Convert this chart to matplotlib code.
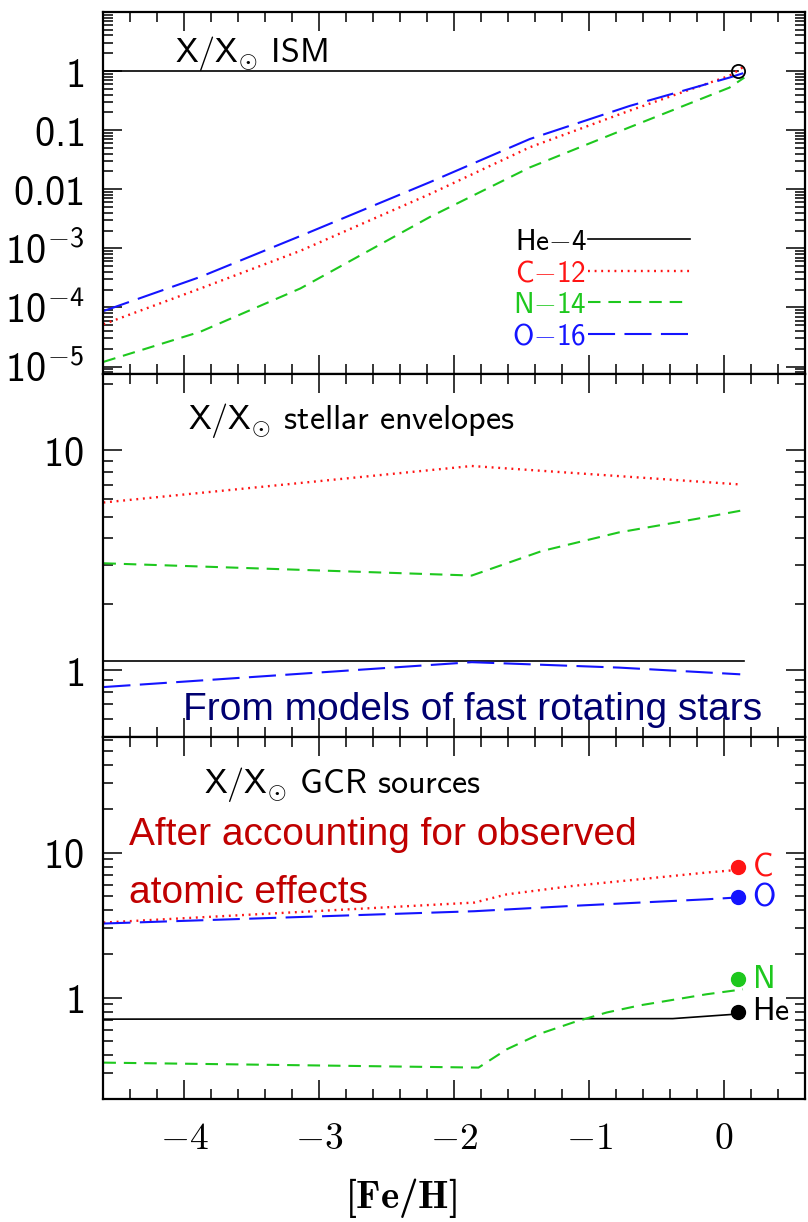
import numpy as np
import matplotlib
matplotlib.use('Agg')
import matplotlib.pyplot as plt
from matplotlib import font_manager
from matplotlib.ticker import LogLocator, NullFormatter, MultipleLocator

# Computer Modern sans for labels, roman for x ticks, bold for the axis title
plt.rcParams['mathtext.fontset'] = 'custom'
plt.rcParams['mathtext.rm'] = 'cmr10'
plt.rcParams['mathtext.sf'] = 'cmss10'
plt.rcParams['mathtext.bf'] = 'cmb10'
plt.rcParams['mathtext.fallback'] = 'cm'

# abundances relative to solar vs [Fe/H]

# ISM
feh_ism = [-4.6, -3.88, -3.14, -2.18, -1.44, -0.70, 0.04, 0.15]
c_ism = [5.2e-5, 2.1e-4, 9.1e-4, 8.3e-3, 0.0513, 0.214, 0.832, 1.2]
n_ism = [1.2e-5, 3.9e-5, 2.1e-4, 3.4e-3, 0.0234, 0.112, 0.525, 0.776]
o_ism = [8.7e-5, 3.3e-4, 1.62e-3, 0.0132, 0.0708, 0.257, 0.776, 0.933]
feh_he_ism = [-4.6, 0.1]
he_ism = [1.0, 1.0]
sun_feh, sun_val = 0.1, 1.0

# stellar envelopes (fast rotators)
feh_env_he = [-4.6, 0.15]
he_env = [1.1, 1.1]
feh_env_c = [-4.6, -1.87, 0.13]
c_env = [5.8, 8.5, 7.0]
feh_env_n = [-4.6, -1.87, -1.35, -0.78, -0.21, 0.12]
n_env = [3.07, 2.70, 3.49, 4.24, 4.88, 5.32]
feh_env_o = [-4.6, -1.87, -0.78, 0.12]
o_env = [0.84, 1.09, 1.03, 0.96]

# GCR sources
feh_gcr_he = [-4.6, -0.38, 0.1]
he_gcr = [0.71, 0.716, 0.77]
feh_gcr_c = [-4.6, -1.85, -1.61, -1.12, -0.62, -0.13, 0.1]
c_gcr = [3.29, 4.52, 5.15, 5.89, 6.55, 7.28, 7.59]
feh_gcr_n = [-4.6, -1.82, -1.61, -1.36, -1.12, -0.87, -0.62, -0.38, -0.13, 0.14]
n_gcr = [0.356, 0.329, 0.44, 0.565, 0.673, 0.789, 0.885, 0.964, 1.054, 1.14]
feh_gcr_o = [-4.6, -1.85, -1.12, -0.13, 0.1]
o_gcr = [3.24, 3.94, 4.29, 4.76, 4.9]

# observed GCR source composition
obs_feh = 0.1
obs_names = ['C', 'O', 'N', 'He']
obs_vals = [7.9, 4.97, 1.34, 0.796]

legend_labels = [r'$\mathsf{He{-}4}$', r'$\mathsf{C{-}12}$', r'$\mathsf{N{-}14}$', r'$\mathsf{O{-}16}$']
xtick_vals = [-4, -3, -2, -1, 0]

sty = {
    'He': dict(color='k', ls='-', lw=1.2),
    'C': dict(color='#ff1414', ls=(0, (0.8, 2.0)), lw=1.7),
    'N': dict(color='#1ec81e', ls=(0, (6, 3.8)), lw=1.5),
    'O': dict(color='#1414ff', ls=(0, (13, 4.5)), lw=1.5),
}
obs_colors = {'C': '#ff1414', 'O': '#1414ff', 'N': '#1ec81e', 'He': 'k'}

# narrow sans for the annotations, if we have it
names = {f.name for f in font_manager.fontManager.ttflist}
if 'Liberation Sans Narrow' in names:
    note_font, note_size = 'Liberation Sans Narrow', 33
else:
    note_font, note_size = 'Liberation Sans', 28

fig, axes = plt.subplots(3, 1, figsize=(8.08, 12.22), dpi=100, sharex=True,
                         gridspec_kw=dict(hspace=0))
fig.subplots_adjust(left=0.128, right=0.9963, top=0.9902, bottom=0.1007)
ax1, ax2, ax3 = axes
for ax in axes:
    ax.set_yscale('log')

# top: ISM
ax1.plot(feh_he_ism, he_ism, label=legend_labels[0], **sty['He'])
ax1.plot(feh_ism, c_ism, label=legend_labels[1], **sty['C'])
ax1.plot(feh_ism, n_ism, label=legend_labels[2], **sty['N'])
ax1.plot(feh_ism, o_ism, label=legend_labels[3], **sty['O'])
ax1.plot([sun_feh], [sun_val], 'o', mfc='none', mec='k', ms=9.5, mew=1.3)
ax1.set_ylim(7.4e-6, 10)
ax1.set_yticks([1e-5, 1e-4, 1e-3, 1e-2, 1e-1, 1, 10],
               labels=[r'$\mathsf{10^{-5}}$', r'$\mathsf{10^{-4}}$', r'$\mathsf{10^{-3}}$',
                       r'$\mathsf{0.01}$', r'$\mathsf{0.1}$', r'$\mathsf{1}$', ''])
ax1.legend(loc='upper right', bbox_to_anchor=(0.836, 0.405), frameon=False,
           markerfirst=False, labelcolor='linecolor', fontsize=21,
           handlelength=3.5, handletextpad=0.05, labelspacing=0.12,
           borderpad=0, borderaxespad=0)
ax1.text(0.102, 0.863, r'$\mathsf{X/X_{\odot}\ ISM}$', transform=ax1.transAxes,
         fontsize=24.5, va='baseline')

# middle: stellar envelopes
ax2.plot(feh_env_he, he_env, **sty['He'])
ax2.plot(feh_env_c, c_env, **sty['C'])
ax2.plot(feh_env_n, n_env, **sty['N'])
ax2.plot(feh_env_o, o_env, **sty['O'])
ax2.set_ylim(0.5, 22.2)
ax2.set_yticks([1, 10], labels=[r'$\mathsf{1}$', r'$\mathsf{10}$'])
ax2.text(0.120, 0.850, r'$\mathsf{X/X_{\odot}\ stellar\ envelopes}$',
         transform=ax2.transAxes, fontsize=24.5, va='baseline')
ax2.text(0.113, 0.046, 'From models of fast rotating stars', transform=ax2.transAxes,
         family=note_font, fontsize=note_size, color='#000070', va='baseline')

# bottom: GCR sources
ax3.plot(feh_gcr_he, he_gcr, **sty['He'])
ax3.plot(feh_gcr_c, c_gcr, **sty['C'])
ax3.plot(feh_gcr_n, n_gcr, **sty['N'])
ax3.plot(feh_gcr_o, o_gcr, **sty['O'])
for name, val in zip(obs_names, obs_vals):
    ax3.plot([obs_feh], [val], 'o', color=obs_colors[name], ms=10, zorder=5)
    ax3.text(obs_feh + 0.11, val, r'$\mathsf{%s}$' % name, color=obs_colors[name],
             fontsize=23, va='center')
ax3.set_ylim(0.2, 63)
ax3.set_yticks([1, 10], labels=[r'$\mathsf{1}$', r'$\mathsf{10}$'])
ax3.text(0.143, 0.845, r'$\mathsf{X/X_{\odot}\ GCR\ sources}$',
         transform=ax3.transAxes, fontsize=24.5, va='baseline')
ax3.text(0.036, 0.7017, 'After accounting for observed', transform=ax3.transAxes,
         family=note_font, fontsize=note_size, color='#c00000', va='baseline')
ax3.text(0.036, 0.541, 'atomic effects', transform=ax3.transAxes,
         family=note_font, fontsize=note_size, color='#c00000', va='baseline')

ax3.set_xlim(-4.6, 0.6)
ax3.set_xticks(xtick_vals, labels=[r'$%d$' % v for v in xtick_vals])
ax3.xaxis.set_minor_locator(MultipleLocator(0.2))
ax3.set_xlabel(r'$\mathbf{[Fe/H]}$', fontsize=28)
ax3.xaxis.set_label_coords(0.424, -0.212)

for ax in axes:
    ax.yaxis.set_minor_locator(LogLocator(subs=np.arange(2, 10), numticks=50))
    ax.yaxis.set_minor_formatter(NullFormatter())
    ax.tick_params(which='both', direction='in', top=True, right=True, width=1.1)
    ax.tick_params(which='major', length=14)
    ax.tick_params(which='minor', length=7)
    ax.tick_params(axis='y', labelsize=29, pad=14)
    ax.tick_params(axis='x', labelsize=27, pad=16)
    for s in ax.spines.values():
        s.set_linewidth(1.6)

fig.savefig('out.png', dpi=100)
